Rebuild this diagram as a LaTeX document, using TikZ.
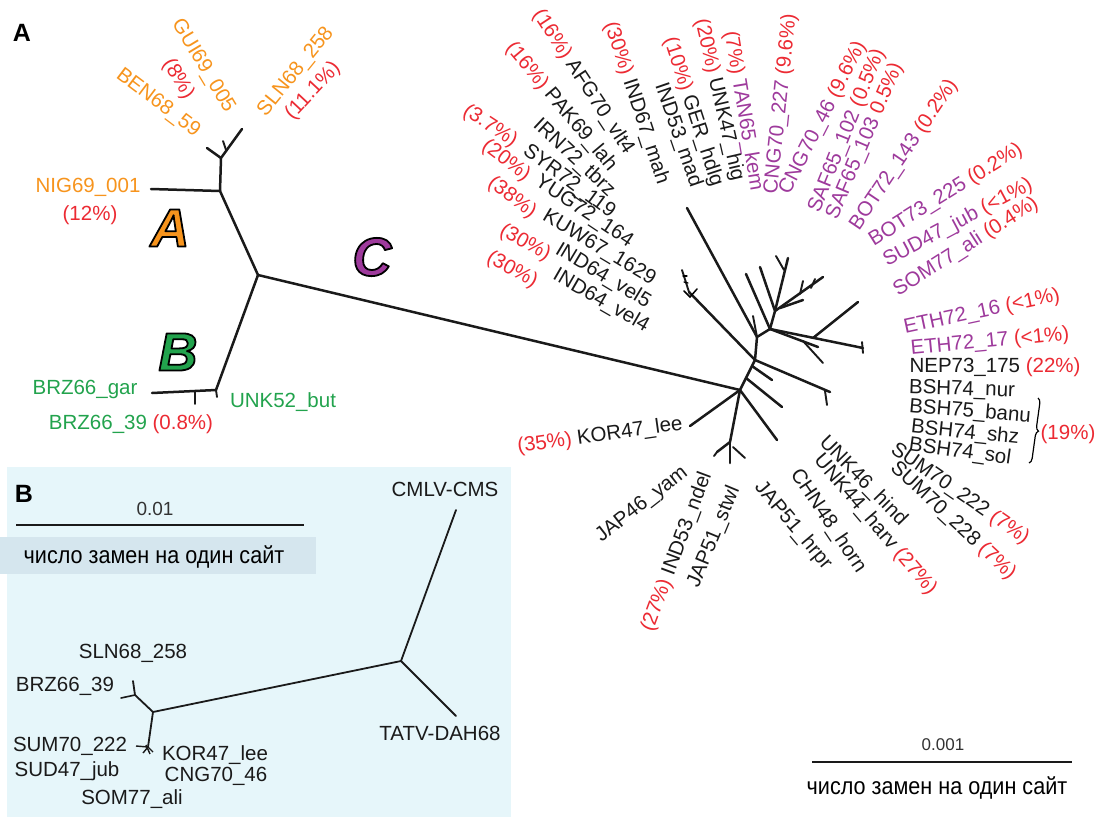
\documentclass[tikz,border=0pt]{standalone}
\usepackage{fontspec}
\setmainfont{Liberation Sans}
\usetikzlibrary{decorations.pathreplacing}
\definecolor{cor}{HTML}{F7941D}
\definecolor{cred}{HTML}{EC2A33}
\definecolor{cpur}{HTML}{9E3A9C}
\definecolor{cgrn}{HTML}{22A34D}
\definecolor{cbg}{HTML}{E6F6FA}
\definecolor{cbox}{HTML}{D5E6EE}
\definecolor{cblk}{HTML}{1A1A1A}
\newcommand\rd[1]{\textcolor{cred}{#1}}
\newcommand\outl[2]{\textcolor{#1}{\special{pdf:literal direct 0 0 0 RG 1.8 w 1 j 2 Tr}#2\special{pdf:literal direct 0 Tr 0.4 w 0 j}}}
\newcommand\lbfont{\fontsize{20.5}{23}\selectfont}
\newcommand\rufont{\fontsize{24}{28}\selectfont}
\tikzset{
  br/.style={line width=2.5pt, line cap=round, line join=round, draw=cblk},
  tw/.style={line width=1.9pt, line cap=round, draw=cblk},
  lbl/.style={font=\lbfont, inner sep=0pt, text=cblk},
  bigl/.style={font=\fontsize{54}{60}\selectfont\bfseries\itshape, inner sep=0pt},
  scl/.style={line width=1.4pt, draw=cblk},
  ru/.style={font=\rufont, inner sep=0pt, text=black},
}
\begin{document}
\begin{tikzpicture}[x=1pt,y=-1pt]
\useasboundingbox (0,0) rectangle (1095,817);
\fill[white] (0,0) rectangle (1095,817);
% ---------- panel B background ----------
\fill[cbg] (7,467) rectangle (511,817);

% ---------- panel labels ----------
\node[font=\fontsize{25}{28}\selectfont\bfseries, inner sep=0pt] (pA) at (22,33) {A};
\node[font=\fontsize{25}{28}\selectfont\bfseries, inner sep=0pt] (pB) at (24,494) {B};

% ---------- main tree: clades A and B ----------
\coordinate (r) at (258,275);
\coordinate (a) at (220,191);
\coordinate (nig) at (151,189);
\coordinate (a1) at (221,158);
\coordinate (slnT) at (242,129);
\coordinate (benT) at (207,148);
\coordinate (aT1) at (226,150);
\coordinate (aT2) at (223,141);
\coordinate (b) at (216,390);
\coordinate (gar) at (152,393);
\coordinate (bT1) at (195,392);
\coordinate (bT2) at (195,404);
\coordinate (bT3) at (217,397);
\draw[br] (r) -- (a) -- (nig);
\draw[br] (a) -- (a1) -- (slnT);
\draw[br] (a1) -- (benT);
\draw[tw] (aT1) -- (aT2);
\draw[br] (r) -- (b) -- (gar);
\draw[tw] (bT1) -- (bT2);
\draw[tw] (b) -- (bT3);

% ---------- clade C ----------
\coordinate (n1) at (740,390);
\draw[br] (r) -- (n1);
\coordinate (kor) at (690,426);
\coordinate (j) at (730,442);
\coordinate (j1) at (717,452);
\coordinate (j2) at (730,463);
\coordinate (j3a) at (733,447);
\coordinate (j3) at (745,458);
\coordinate (hb1) at (777,440);
\coordinate (n2) at (755,360);
\coordinate (t1a) at (746,378);
\coordinate (t1) at (782,407);
\coordinate (t2a) at (752,366);
\coordinate (t2) at (772,380);
\coordinate (e1) at (830,392);
\coordinate (e1a) at (825,391);
\coordinate (e1b) at (827,405);
\coordinate (ind64) at (689,292);
\coordinate (ind64t) at (682,270);
\coordinate (n2b) at (757,337);
\coordinate (ind53) at (687,208);
\coordinate (tw3) at (753,316);
\coordinate (n3) at (770,329);
\coordinate (u1) at (746,274);
\coordinate (n4) at (775,311);
\coordinate (u2) at (760,267);
\coordinate (u3) at (788,258);
\coordinate (u3a) at (784,270);
\coordinate (u3b) at (776,256);
\coordinate (u4) at (823,277);
\coordinate (u4a) at (800,294);
\coordinate (u4b) at (803,281);
\coordinate (u4c) at (811,288);
\coordinate (u4d) at (815,279);
\coordinate (u5a) at (780,308);
\coordinate (u5) at (803,300);
\coordinate (v1) at (818,347);
\coordinate (v1a) at (803,341);
\coordinate (v1b) at (823,363);
\coordinate (v2) at (863,348);
\coordinate (v2a) at (813,338);
\coordinate (v2b) at (858,302);
\coordinate (v2c) at (862,342);
\coordinate (v2d) at (863,353);
\draw[br] (n1) -- (kor);
\draw[br] (n1) -- (j) -- (j1);
\draw[br] (j) -- (j2);
\draw[tw] (j3a) -- (j3);
\draw[tw] (j1) -- ++(-3,4);
\draw[br] (n1) -- (hb1);
\draw[br] (n1) -- (n2);
\draw[br] (t1a) -- (t1);
\draw[br] (t2a) -- (t2);
\draw[br] (n2) -- (e1);
\draw[tw] (e1a) -- (e1b);
\draw[br] (n2) -- (ind64);
\draw[tw] (ind64) -- (ind64t);
\draw[line width=1.5pt, line cap=round] (684,291) -- (690,297) -- (697,289);
\draw[line width=1.3pt, line cap=round] (683,276) -- (687,276);
\draw[line width=1.3pt, line cap=round] (684,282) -- (688,283);
\draw[br] (n2) -- (n2b) -- (n3);
\draw[br] (ind53) -- (n2b);
\draw[tw] (n2b) -- (tw3);
\draw[br] (n3) -- (u1);
\draw[br] (n3) -- (n4) -- (u2);
\draw[br] (n4) -- (u3);
\draw[tw] (u3a) -- (u3b);
\draw[br] (n4) -- (u4);
\draw[tw] (u4a) -- (u4b);
\draw[tw] (u4c) -- (u4d);
\draw[br] (u5a) -- (u5);
\draw[br] (n3) -- (v1);
\draw[tw] (v1a) -- (v1b);
\draw[br] (n3) -- (v2);
\draw[br] (v2a) -- (v2b);
\draw[tw] (v2c) -- (v2d);

% ---------- panel B tree and scale ----------
\coordinate (sB1) at (16,525);
\coordinate (sB2) at (304,525);
\draw[scl] (sB1) -- (sB2);
\coordinate (P) at (401,661);
\coordinate (cmlv) at (456,510);
\coordinate (tatv) at (456,716);
\coordinate (L) at (153,712);
\coordinate (L1) at (135,695);
\coordinate (L1u) at (133,681);
\coordinate (L1l) at (121,698);
\coordinate (Ld) at (148,747);
\draw[line width=1.8pt, line cap=round, draw=cblk] (cmlv) -- (P) -- (tatv);
\draw[line width=1.8pt, line cap=round, draw=cblk] (P) -- (L) -- (L1) -- (L1u);
\draw[line width=1.6pt, line cap=round, draw=cblk] (L1) -- (L1l);
\draw[line width=1.8pt, line cap=round, draw=cblk] (L) -- (Ld);
\draw[line width=1.4pt, draw=cblk] (Ld) -- (136,746);
\draw[line width=1.4pt, draw=cblk] (Ld) -- (143,753);
\draw[line width=1.4pt, draw=cblk] (Ld) -- (153,752);
\draw[line width=1.4pt, draw=cblk] (146,745) -- (150,754);

% ---------- scale bar (A) ----------
\coordinate (sA1) at (812,762);
\coordinate (sA2) at (1072,762);
\draw[scl] (sA1) -- (sA2);

% brace
\coordinate (brT) at (1038,398);
\coordinate (brB) at (1029,463);
\draw[line width=1.2pt, decorate, decoration={brace, amplitude=5pt}] (brT) -- (brB);

% ---------- clade A/B labels ----------
\node[lbl,text=cor,rotate=-59] (gui) at (203,66) {GUI69\_005};
\node[lbl,text=cred,rotate=-59] (gui8) at (178,79) {(8\%)};
\node[lbl,text=cor,rotate=-37] (ben) at (158,103) {BEN68\_59};
\node[lbl,text=cor,rotate=51] (sln) at (296,72) {SLN68\_258};
\node[lbl,text=cred,rotate=47] (sln11) at (313,91) {(11.1\%)};
\node[lbl,text=cor] (nigl) at (88,187) {NIG69\_001};
\node[lbl,text=cred] (nig12) at (90,215) {(12\%)};
\node[lbl,text=cgrn] (garl) at (85,389) {BRZ66\_gar};
\node[lbl,text=cgrn] (b39) at (131,424) {BRZ66\_39 \rd{(0.8\%)}};
\node[lbl,text=cgrn] (unk52) at (283,402) {UNK52\_but};

% ---------- clade C labels ----------
\node[lbl,rotate=-56.7] (l1) at (583,82) {\rd{(16\%)} AFG70\_vlt4};
\node[lbl,rotate=-50] (l2) at (561,107) {\rd{(16\%)} PAK69\_lah};
\node[lbl,rotate=-71.7] (l3) at (636,103) {\rd{(30\%)} IND67\_mah};
\node[lbl,rotate=-72] (l4) at (693,112) {\rd{(10\%)} GER\_hdlg};
\node[lbl,rotate=-71] (l5) at (678,135) {IND53\_mad};
\node[lbl,rotate=-77] (l6) at (719,100) {\rd{(20\%)} UNK47\_hig};
\node[lbl,rotate=-80.6] (l7) at (743,111) {\rd{(7\%)} \textcolor{cpur}{TAN65\_kem}};
\node[lbl,text=cpur,rotate=84] (l8) at (781,104) {CNG70\_227 \rd{(9.6\%)}};
\node[lbl,text=cpur,rotate=63] (l9) at (823,118) {CNG70\_46 \rd{(9.6\%)}};
\node[lbl,text=cpur,rotate=68] (l10) at (847,131) {SAF65\_102 \rd{(0.5\%)}};
\node[lbl,text=cpur,rotate=67] (l11) at (865,141) {SAF65\_103 \rd{0.5\%)}};
\node[lbl,text=cpur,rotate=56] (l12) at (904,155) {BOT72\_143 \rd{(0.2\%)}};
\node[lbl,text=cpur,rotate=32] (l13) at (946,195) {BOT73\_225 \rd{(0.2\%)}};
\node[lbl,text=cpur,rotate=28] (l14) at (958,223) {SUD47\_jub \rd{(<1\%)}};
\node[lbl,text=cpur,rotate=32.6] (l15) at (966,247) {SOM77\_ali \rd{(0.4\%)}};
\node[lbl,text=cpur,rotate=12] (l16) at (982,312) {ETH72\_16 \rd{(<1\%)}};
\node[lbl,text=cpur,rotate=5.5] (l17) at (990,342) {ETH72\_17 \rd{(<1\%)}};
\node[lbl] (l18) at (995,367) {NEP73\_175 \rd{(22\%)}};
\node[lbl,rotate=-2] (l19) at (962,390) {BSH74\_nur};
\node[lbl,rotate=-5] (l20) at (970,412) {BSH75\_banu};
\node[lbl,rotate=-6] (l21) at (965,433) {BSH74\_shz};
\node[lbl,rotate=-8] (l22) at (960,452) {BSH74\_sol};
\node[lbl,text=cred] (p19) at (1068,434) {(19\%)};
\node[lbl,rotate=-34.6] (l23) at (960,494) {SUM70\_222 \rd{(7\%)}};
\node[lbl,rotate=-42.9] (l24) at (953,521) {SUM70\_228 \rd{(7\%)}};
\node[lbl,rotate=-45.7] (l25) at (863,481) {UNK46\_hind};
\node[lbl,rotate=-49.5] (l26) at (875,525) {UNK44\_harv \rd{(27\%)}};
\node[lbl,rotate=-56] (l27) at (828,521) {CHN48\_horn};
\node[lbl,rotate=-50] (l28) at (793,526) {JAP51\_hrpr};
\node[lbl,rotate=67.4] (l29) at (714,537) {JAP51\_stwl};
\node[lbl,rotate=69.6] (l30) at (677,552) {\rd{(27\%)} IND53\_ndel};
\node[lbl,rotate=38] (l31) at (642,505) {JAP46\_yam};
\node[lbl,rotate=8] (l32) at (600,436) {\rd{(35\%)} KOR47\_lee};
% cluster
\node[lbl,text=cred,rotate=-33] (q1) at (490,126) {(3.7\%)};
\node[lbl,rotate=-43] (q2) at (574,158) {IRN72\_tbrz};
\node[lbl,text=cred,rotate=-37] (q3) at (506,161) {(20\%)};
\node[lbl,rotate=-36.5] (q4) at (569,182) {SYR72\_119};
\node[lbl,text=cred,rotate=-37] (q5) at (512,198) {(38\%)};
\node[lbl,rotate=-33.7] (q6) at (584,212) {YUG72\_164};
\node[lbl,rotate=-31] (q7) at (599,248) {KUW67\_1629};
\node[lbl,text=cred,rotate=-29] (q8) at (525,243) {(30\%)};
\node[lbl,rotate=-31] (q9) at (603,276) {IND64\_vel5};
\node[lbl,text=cred,rotate=-29] (q10) at (512,270) {(30\%)};
\node[lbl,rotate=-30] (q11) at (601,301) {IND64\_vel4};

% ---------- scale texts ----------
\node[lbl,font=\fontsize{17}{20}\selectfont,text=black!80] (sA) at (943,745) {0.001};
\node[ru] (ruA) at (937,788) {\scalebox{0.9}[1]{число замен на один сайт}};
\node[lbl,font=\fontsize{19}{22}\selectfont,text=black!80] (sB) at (155,509) {0.01};
\fill[cbox] (0,537) rectangle (316,574);
\node[ru] (ruB) at (154,557) {\scalebox{0.9}[1]{число замен на один сайт}};

% ---------- panel B labels ----------
\node[lbl] (bcm) at (445,489) {CMLV-CMS};
\node[lbl] (bta) at (440,733) {TATV-DAH68};
\node[lbl] (bsl) at (133,653) {SLN68\_258};
\node[lbl] (bbr) at (65,686) {BRZ66\_39};
\node[lbl] (bsu) at (70,746) {SUM70\_222};
\node[lbl] (bsd) at (67,771) {SUD47\_jub};
\node[lbl] (bso) at (132,799) {SOM77\_ali};
\node[lbl] (bko) at (215,755) {KOR47\_lee};
\node[lbl] (bcn) at (216,776) {CNG70\_46};

% ---------- big clade letters (outlined) ----------
\node[bigl] (LA) at (170,228) {\outl{cor}{A}};
\node[bigl] (LB) at (178,352) {\outl{cgrn}{B}};
\node[bigl] (LC) at (372,257) {\outl{cpur}{C}};
\end{tikzpicture}
\end{document}
